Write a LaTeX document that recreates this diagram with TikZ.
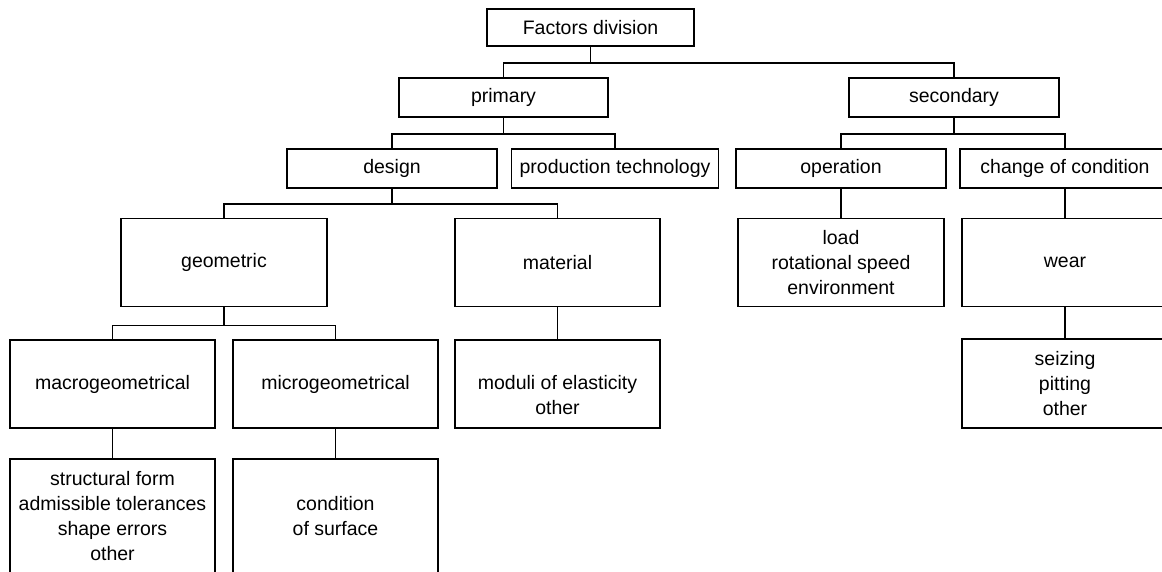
\documentclass[tikz,border=0pt]{standalone}
\usepackage{fontspec}
\setmainfont{Liberation Sans}
\begin{document}
\begin{tikzpicture}[x=1pt,y=-1pt,
  box/.style={draw, line width=1.6pt, inner sep=0pt, align=center, font=\fontsize{19.5}{25}\selectfont},
  bs/.style={box, minimum width=208pt, minimum height=39pt},
  bt/.style={box, minimum width=206pt, minimum height=88pt},
  bb/.style={box, minimum width=205pt, minimum height=115pt},
  conn/.style={line width=1.6pt}]
\useasboundingbox (0,0) rectangle (1162,571);
\clip (0,0) rectangle (1162,571);
\node[bs, minimum width=207pt, minimum height=37pt] (top) at (590.5,27.5) {Factors division};
\node[bs, minimum width=209pt] (primary) at (503.5,97.5) {primary};
\node[bs, minimum width=210pt] (secondary) at (954,97.5) {secondary};
\node[bs, minimum width=210pt] (design) at (392,168.5) {design};
\node[bs, minimum width=207pt] (prodtech) at (615,168.5) {production technology};
\node[bs, minimum width=210pt] (operation) at (841,168.5) {operation};
\node[bs, minimum width=210pt] (change) at (1065,168.5) {change of condition};
\node[bt] (geometric) at (224,262.5) {geometric};
\node[bt, minimum width=205pt] (material) at (557.5,262.5) {material};
\node[bt] (load) at (841,262.5) {load\\rotational speed\\environment};
\node[bt] (wear) at (1065,262.5) {wear};
\node[bt, minimum width=205pt] (macro) at (112.5,384) {macrogeometrical};
\node[bt, minimum width=205pt] (micro) at (335.5,384) {microgeometrical};
\node[bt, minimum width=205pt] (moduli) at (557.5,384) {\mbox{}\\[12pt]moduli of elasticity\\other};
\node[bt, minimum height=89pt] (seizing) at (1065,383.5) {seizing\\pitting\\other};
\node[bb] (structural) at (112.5,516.5) {structural form\\admissible tolerances\\shape errors\\other};
\node[bb] (condition) at (335.5,516.5) {condition\\of surface};
\draw[conn] (top.south) -- ++(0,16) -| (primary.north);
\draw[conn] (top.south) -- ++(0,16) -| (secondary.north);
\draw[conn] (primary.south) -- ++(0,16) -| (design.north);
\draw[conn] (primary.south) -- ++(0,16) -| (prodtech.north);
\draw[conn] (secondary.south) -- ++(0,16) -| (operation.north);
\draw[conn] (secondary.south) -- ++(0,16) -| (change.north);
\draw[conn] (design.south) -- ++(0,15) -| (geometric.north);
\draw[conn] (design.south) -- ++(0,15) -| (material.north);
\draw[conn] (geometric.south) -- ++(0,18) -| (macro.north);
\draw[conn] (geometric.south) -- ++(0,18) -| (micro.north);
\draw[conn] (material.south) -- (moduli.north);
\draw[conn] (operation.south) -- (load.north);
\draw[conn] (change.south) -- (wear.north);
\draw[conn] (wear.south) -- (seizing.north);
\draw[conn] (macro.south) -- (structural.north);
\draw[conn] (micro.south) -- (condition.north);
\end{tikzpicture}
\end{document}
